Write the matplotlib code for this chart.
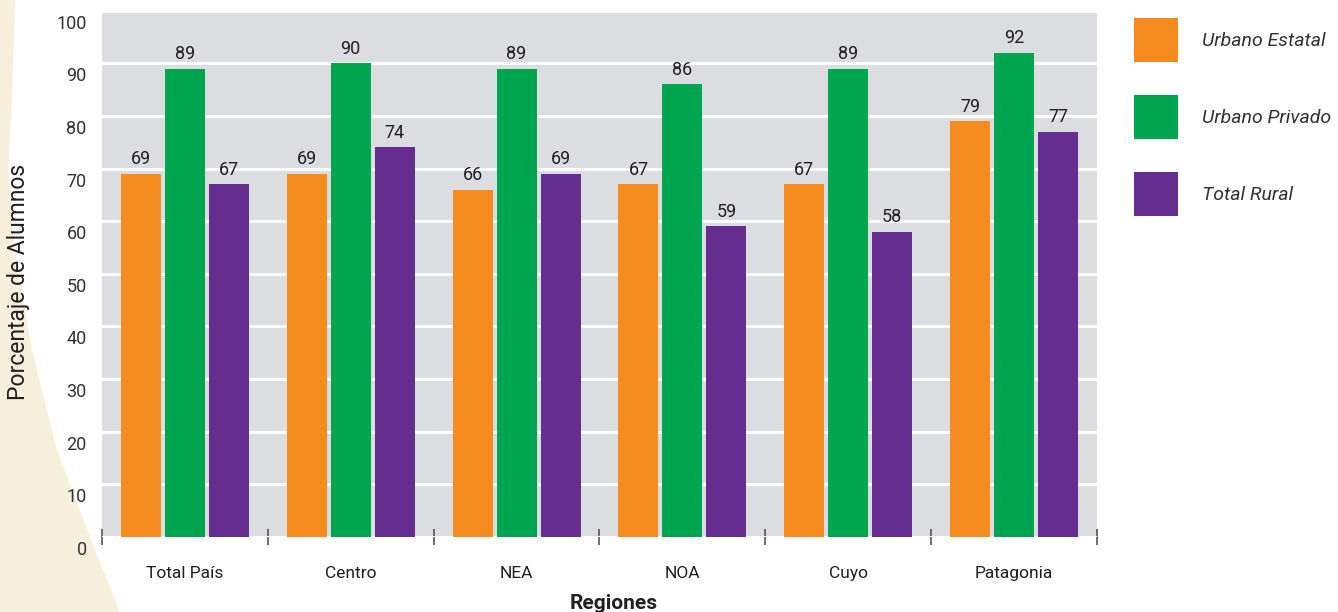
import numpy as np
import matplotlib
matplotlib.use("Agg")
import matplotlib.pyplot as plt
import matplotlib.transforms as mtransforms
from matplotlib.patches import Polygon

plt.rcParams['font.family'] = ['Roboto', 'DejaVu Sans']

# Datos
regiones = ['Total País', 'Centro', 'NEA', 'NOA', 'Cuyo', 'Patagonia']
urbano_estatal = [69, 69, 66, 67, 67, 79]
urbano_privado = [89, 90, 89, 86, 89, 92]
total_rural = [67, 74, 69, 59, 58, 77]
series_nombres = ['Urbano Estatal', 'Urbano Privado', 'Total Rural']
colores = ['#f68b1f', '#00a54f', '#662d91']

W, H = 1338, 612
fig = plt.figure(figsize=(W / 100, H / 100), dpi=100)

# Forma beige decorativa a la izquierda (borde aproximado en pixeles)
yy = np.linspace(0, H, 80)
xx = np.interp(yy, [0, 100, 170, 250, 350, 450, 537, 612],
               [15, 12, 8, 15, 32, 57, 90, 120])
pts = [(0, 1)] + [(x / W, 1 - y / H) for x, y in zip(xx, yy)] + [(0, 0)]
fig.patches.append(Polygon(pts, closed=True, transform=fig.transFigure,
                           facecolor='#f7efdc', edgecolor='none', zorder=0))

ax = fig.add_axes([102 / W, 1 - 537 / H, 995 / W, (537 - 10.6) / H])
ax.set_zorder(2)
ax.set_facecolor('#dcdde0')

x = np.arange(len(regiones))
ancho = 0.241
paso = 0.265
datos = [urbano_estatal, urbano_privado, total_rural]
barras = []
for i, (vals, nombre, c) in enumerate(zip(datos, series_nombres, colores)):
    b = ax.bar(x + (i - 1) * paso, vals, ancho, color=c, label=nombre, zorder=3)
    ax.bar_label(b, padding=4, fontsize=13, color='#231f20')
    barras.append(b)

ax.set_xlim(-0.5, len(regiones) - 0.5)
ax.set_ylim(0, 100)
ax.set_yticks(range(0, 101, 10))
ax.yaxis.grid(True, color='white', linewidth=2.2, zorder=1)
ax.set_axisbelow(True)

for s in ax.spines.values():
    s.set_visible(False)

ax.set_xticks(x)
ax.set_xticklabels(regiones, fontsize=12.5, color='#231f20')
ax.set_xticks(np.arange(-0.5, len(regiones)), minor=True)
ax.tick_params(axis='x', which='major', length=0, pad=21)
ax.tick_params(axis='x', which='minor', length=12, direction='inout',
               color='#555555', width=1.2)
ax.tick_params(axis='y', length=0, pad=11, labelsize=13, labelcolor='#333333')

# etiquetas del eje y desplazadas hacia abajo
offset = mtransforms.ScaledTranslation(0, -0.11, fig.dpi_scale_trans)
for lbl in ax.get_yticklabels():
    lbl.set_transform(lbl.get_transform() + offset)

ax.set_xlabel('Regiones', fontsize=15, fontweight='bold', color='#231f20',
              labelpad=9.5, x=0.514)
ax.set_ylabel('Porcentaje de Alumnos', fontsize=16.5, color='#231f20')
ax.yaxis.set_label_coords(-0.072, 0.485)

leg = ax.legend(handles=barras, loc='upper left',
                bbox_to_anchor=(1134 / W, 1 - 18 / H), bbox_transform=fig.transFigure,
                frameon=False, borderpad=0, borderaxespad=0,
                fontsize=14, handlelength=2.26, handleheight=3.1,
                labelspacing=1.7, handletextpad=1.25)
for t in leg.get_texts():
    t.set_fontstyle('italic')
    t.set_color('#333333')

fig.savefig('out.png', dpi=100)
